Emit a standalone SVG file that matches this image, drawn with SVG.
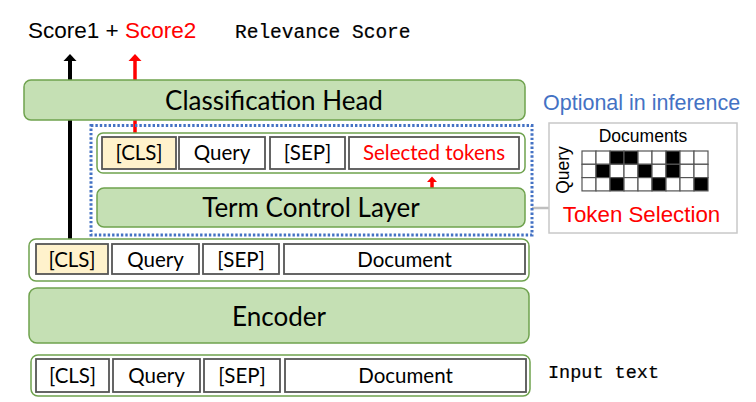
<svg xmlns="http://www.w3.org/2000/svg" width="756" height="402" viewBox="0 0 756 402">
<style>
.g{fill:#C5E0B4;stroke:#6FA24E;stroke-width:1.5}
.row{fill:#fff;stroke:#6FA24E;stroke-width:1.5}
.tok{fill:#fff;stroke:#555;stroke-width:1.8}
.cls{fill:#FFF2CC;stroke:#555;stroke-width:1.8}
.c{font-family:Lato,"Liberation Sans",sans-serif;fill:#000;text-anchor:middle}
.a{font-family:"Liberation Sans",Arial,sans-serif}
.m{font-family:"Liberation Mono","Courier New",monospace;fill:#000;stroke:#000;stroke-width:0.2}
.big{font-size:26px}
.t{font-size:20.5px}
.b{fill:#000}
.w{fill:#fff}
</style>
<rect width="756" height="402" fill="#fff"/>
<g id="connectors">
  <line x1="70" y1="60" x2="70" y2="240" stroke="#000" stroke-width="4"/>
  <polygon points="63.5,61 70,54 76.5,61" fill="#000"/>
  <line x1="135" y1="60" x2="135" y2="137" stroke="#f00" stroke-width="3.5"/>
  <polygon points="128.5,61 135,54 141.5,61" fill="#f00"/>
  <line x1="432" y1="182" x2="432" y2="188" stroke="#f00" stroke-width="3.5"/>
  <polygon points="427,182 432,176.5 437,182" fill="#f00"/>
  <line x1="532" y1="208" x2="549" y2="208" stroke="#bfbfbf" stroke-width="2.5"/>
</g>
<g id="scores">
  <text x="28" y="38" class="a" font-size="22.5"><tspan fill="#000">Score1 + </tspan><tspan fill="#f00">Score2</tspan></text>
  <text x="235" y="38" class="m" font-size="19.5">Relevance Score</text>
</g>
<g id="classification-head">
  <rect x="24" y="80" width="501" height="40" rx="7" class="g"/>
  <text x="274" y="110" class="c big">Classification Head</text>
</g>
<g id="optional-box">
  <rect x="91" y="125.5" width="441" height="109.5" fill="none" stroke="#4472C4" stroke-width="3" stroke-dasharray="2.4,2"/>
  <text x="543" y="110" class="a" font-size="21.5" fill="#4472C4">Optional in inference</text>
</g>
<g id="selected-row">
  <rect x="97" y="133" width="428" height="40" rx="6" class="row"/>
  <rect x="102" y="137" width="74" height="32" class="cls"/>
  <text x="139" y="160" class="c t">[CLS]</text>
  <rect x="179" y="137" width="86" height="32" class="tok"/>
  <text x="222" y="160" class="c t">Query</text>
  <rect x="270" y="137" width="75" height="32" class="tok"/>
  <text x="307.5" y="160" class="c t">[SEP]</text>
  <rect x="349" y="137" width="170" height="32" class="tok"/>
  <text x="434" y="160" class="c t" style="fill:#f00">Selected tokens</text>
</g>
<g id="term-control-layer">
  <rect x="97" y="188" width="428" height="39" rx="7" class="g"/>
  <text x="311" y="217" class="c big">Term Control Layer</text>
</g>
<g id="token-selection">
  <rect x="549" y="123" width="188" height="110" fill="#fff" stroke="#c8c8c8" stroke-width="1.5"/>
  <text x="643" y="142" class="a" font-size="17.5" text-anchor="middle">Documents</text>
  <text transform="translate(569,170) rotate(-90)" class="a" font-size="17.5" text-anchor="middle">Query</text>
  <g stroke="#555" stroke-width="1.2">
    <rect x="582" y="151" width="14" height="13.3" class="w"/>
    <rect x="596" y="151" width="14" height="13.3" class="w"/>
    <rect x="610" y="151" width="14" height="13.3" class="b"/>
    <rect x="624" y="151" width="14" height="13.3" class="b"/>
    <rect x="638" y="151" width="14" height="13.3" class="w"/>
    <rect x="652" y="151" width="14" height="13.3" class="w"/>
    <rect x="666" y="151" width="14" height="13.3" class="b"/>
    <rect x="680" y="151" width="14" height="13.3" class="w"/>
    <rect x="694" y="151" width="14" height="13.3" class="w"/>
    <rect x="582" y="164.3" width="14" height="13.3" class="w"/>
    <rect x="596" y="164.3" width="14" height="13.3" class="b"/>
    <rect x="610" y="164.3" width="14" height="13.3" class="w"/>
    <rect x="624" y="164.3" width="14" height="13.3" class="w"/>
    <rect x="638" y="164.3" width="14" height="13.3" class="b"/>
    <rect x="652" y="164.3" width="14" height="13.3" class="w"/>
    <rect x="666" y="164.3" width="14" height="13.3" class="b"/>
    <rect x="680" y="164.3" width="14" height="13.3" class="w"/>
    <rect x="694" y="164.3" width="14" height="13.3" class="w"/>
    <rect x="582" y="177.6" width="14" height="13.3" class="w"/>
    <rect x="596" y="177.6" width="14" height="13.3" class="w"/>
    <rect x="610" y="177.6" width="14" height="13.3" class="b"/>
    <rect x="624" y="177.6" width="14" height="13.3" class="w"/>
    <rect x="638" y="177.6" width="14" height="13.3" class="w"/>
    <rect x="652" y="177.6" width="14" height="13.3" class="b"/>
    <rect x="666" y="177.6" width="14" height="13.3" class="w"/>
    <rect x="680" y="177.6" width="14" height="13.3" class="w"/>
    <rect x="694" y="177.6" width="14" height="13.3" class="b"/>
  </g>
  <text x="641.5" y="222" class="a" font-size="22.3" fill="#f00" text-anchor="middle">Token Selection</text>
</g>
<g id="encoded-row">
  <rect x="29" y="239" width="500" height="42" rx="7" class="row"/>
  <rect x="36" y="244" width="72" height="30" class="cls"/>
  <text x="72" y="267" class="c t">[CLS]</text>
  <rect x="112" y="244" width="87" height="30" class="tok"/>
  <text x="155.5" y="267" class="c t">Query</text>
  <rect x="203" y="244" width="76" height="30" class="tok"/>
  <text x="241" y="267" class="c t">[SEP]</text>
  <rect x="284" y="244" width="241" height="30" class="tok"/>
  <text x="404.5" y="267" class="c t">Document</text>
</g>
<g id="encoder">
  <rect x="29" y="288" width="500" height="55" rx="8" class="g"/>
  <text x="279" y="326" class="c big">Encoder</text>
</g>
<g id="input-row">
  <rect x="31" y="355" width="499" height="41" rx="7" class="row"/>
  <rect x="36" y="359" width="73" height="33" class="tok"/>
  <text x="72.5" y="383" class="c t">[CLS]</text>
  <rect x="113" y="359" width="87" height="33" class="tok"/>
  <text x="156.5" y="383" class="c t">Query</text>
  <rect x="204" y="359" width="76" height="33" class="tok"/>
  <text x="242" y="383" class="c t">[SEP]</text>
  <rect x="285" y="359" width="241" height="33" class="tok"/>
  <text x="405.5" y="383" class="c t">Document</text>
  <text x="548" y="378" class="m" font-size="18.5">Input text</text>
</g>
</svg>
